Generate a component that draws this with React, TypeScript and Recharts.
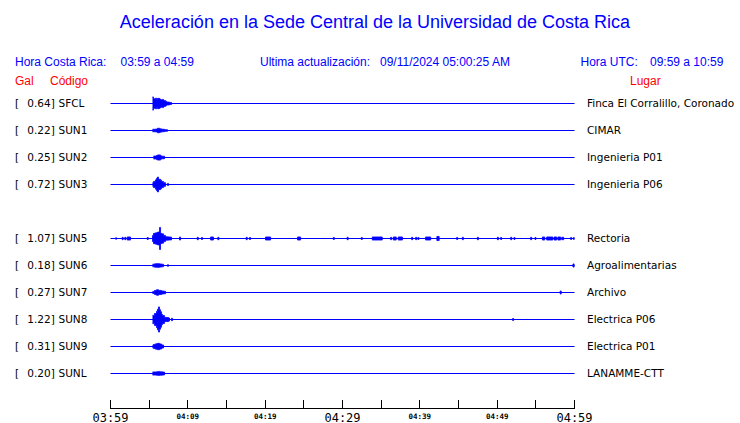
import React from 'react'
import { ComposedChart, Area, XAxis, YAxis, ReferenceLine } from 'recharts'

// estaciones (la fila 4 queda vacía en el gráfico original)
const CODES = ['SFCL', 'SUN1', 'SUN2', 'SUN3', '', 'SUN5', 'SUN6', 'SUN7', 'SUN8', 'SUN9', 'SUNL']
const PLACES = [
  'Finca El Corralillo, Coronado',
  'CIMAR',
  'Ingenieria P01',
  'Ingenieria P06',
  '',
  'Rectoria',
  'Agroalimentarias',
  'Archivo',
  'Electrica P06',
  'Electrica P01',
  'LANAMME-CTT',
]
const PEAKS = [0.64, 0.22, 0.25, 0.72, null, 1.07, 0.18, 0.27, 1.22, 0.31, 0.2]

// envolvente de cada traza: [minutos desde 03:59, amplitud en gal]
const SFCL = [[5.43, 0.64], [5.56, 0.46], [5.82, 0.52], [5.95, 0.42], [6.08, 0.5], [6.34, 0.44], [6.47, 0.36], [6.73, 0.4], [6.86, 0.28], [7.12, 0.22], [7.24, 0.14], [7.63, 0.1], [7.89, 0]]
const SUN1 = [[5.43, 0.12], [5.82, 0.14], [6.08, 0.22], [6.34, 0.16], [6.6, 0.12], [6.99, 0.08], [7.37, 0]]
const SUN2 = [[5.56, 0.14], [5.95, 0.2], [6.08, 0.25], [6.47, 0.16], [6.6, 0.12], [6.99, 0]]
const SUN3 = [[5.43, 0.18], [5.56, 0.3], [5.82, 0.45], [5.95, 0.6], [6.08, 0.72], [6.21, 0.5], [6.47, 0.42], [6.6, 0.3], [6.86, 0.18], [7.12, 0], [7.37, 0.1], [7.5, 0]]
const SUN5 = [
  [0.65, 0.08], [0.78, 0], [1.51, 0.12], [1.64, 0], [1.85, 0.12], [1.98, 0], [2.16, 0.15], [2.59, 0], [4.75, 0.1], [4.88, 0],
  [5.43, 0.3], [5.56, 0.5], [5.82, 0.55], [6.08, 0.62], [6.34, 1.07], [6.47, 0.5], [6.6, 0.45], [6.86, 0.3], [7.12, 0.16], [7.5, 0.14], [7.89, 0],
  [8.93, 0.15], [9.06, 0], [11.22, 0.12], [11.35, 0], [11.77, 0.1], [11.9, 0], [12.94, 0.15], [13.32, 0], [13.88, 0.12], [14.01, 0],
  [17.55, 0.12], [17.68, 0], [17.98, 0.1], [18.11, 0], [20.05, 0.15], [20.7, 0], [24.19, 0.15], [24.58, 0], [28.81, 0.1], [28.94, 0],
  [30.6, 0.12], [30.73, 0], [32.43, 0.1], [32.56, 0], [33.85, 0.15], [35.14, 0], [36.22, 0.12], [36.35, 0], [36.57, 0.15], [36.95, 0],
  [37.2, 0.15], [37.75, 0], [38.94, 0.12], [39.07, 0], [39.46, 0.12], [39.59, 0], [39.75, 0.1], [39.88, 0], [40.75, 0.15], [41.4, 0],
  [42.2, 0.2], [42.5, 0], [44.76, 0.1], [44.89, 0], [45.5, 0.12], [45.63, 0], [47.44, 0.12], [47.57, 0], [50.03, 0.12], [50.16, 0],
  [50.45, 0.1], [50.58, 0], [51.75, 0.12], [51.88, 0], [52.17, 0.1], [52.3, 0], [54.33, 0.12], [54.46, 0], [54.89, 0.1], [55.02, 0],
  [55.85, 0.15], [56.15, 0], [56.4, 0.15], [57.2, 0], [57.35, 0.15], [57.7, 0], [57.85, 0.15], [58.2, 0], [58.35, 0.12], [58.6, 0],
  [59.5, 0.1], [59.63, 0], [59.87, 0.1], [60, 0],
]
const SUN6 = [[5.43, 0.12], [5.69, 0.16], [5.95, 0.18], [6.34, 0.15], [6.6, 0.12], [6.86, 0], [7.37, 0.08], [7.5, 0], [59.8, 0.15], [60, 0]]
const SUN7 = [[5.43, 0.1], [5.69, 0.2], [5.95, 0.27], [6.21, 0.2], [6.6, 0.15], [6.86, 0.12], [7.12, 0], [58.15, 0.15], [58.28, 0]]
const SUN8 = [[5.43, 0.4], [5.69, 0.58], [5.95, 0.8], [6.08, 1.0], [6.21, 1.22], [6.34, 0.95], [6.47, 0.75], [6.6, 0.5], [6.73, 0.38], [6.99, 0.2], [7.5, 0.15], [7.63, 0], [7.89, 0.12], [8.02, 0], [52.0, 0.1], [52.13, 0]]
const SUN9 = [[5.43, 0.12], [5.56, 0.2], [5.82, 0.26], [6.08, 0.31], [6.34, 0.25], [6.6, 0.15], [6.86, 0]]
const SUNL = [[5.43, 0.15], [5.95, 0.17], [6.21, 0.2], [6.34, 0.16], [6.73, 0.14], [6.99, 0]]

const TRACES = [SFCL, SUN1, SUN2, SUN3, null, SUN5, SUN6, SUN7, SUN8, SUN9, SUNL]

const TICKS = [0, 5, 10, 15, 20, 25, 30, 35, 40, 45, 50, 55, 60]
const TICK_LABELS: Record<number, string> = {
  0: '03:59',
  10: '04:09',
  20: '04:19',
  30: '04:29',
  40: '04:39',
  50: '04:49',
  60: '04:59',
}
const BIG_TICKS = [0, 30, 60]

const BLUE = '#0000ff'
const RED = '#ff0000'
const ROW_GAP = 27 // px entre trazas
const GAIN = 10.3 // px por gal
const TOP = 76.5

function AxisTick({ x, y, payload }: any) {
  const v = payload.value
  const label = TICK_LABELS[v]
  const big = BIG_TICKS.includes(v)
  return (
    <g>
      <line x1={x} x2={x} y1={y - 9} y2={y} stroke="#000" shapeRendering="crispEdges" />
      {label && (
        <text
          x={x}
          y={big ? y + 13 : y + 10}
          textAnchor="middle"
          fontFamily="'DejaVu Sans Mono', monospace"
          fontSize={big ? 12 : 7.5}
          fontWeight={big ? 'normal' : 'bold'}
          fill="#000"
        >
          {label}
        </text>
      )}
    </g>
  )
}

export default function App() {
  const rowY = (i: number) => ROW_GAP * (i + 1)

  return (
    <div style={{ position: 'absolute', left: 0, top: 0, width: 740, height: 423, background: '#fff' }}>
      <ComposedChart width={740} height={423} margin={{ top: TOP, right: 165.5, bottom: 0, left: 110.5 }}>
        <XAxis
          type="number"
          dataKey="t"
          domain={[0, 60]}
          ticks={TICKS}
          height={14.5}
          axisLine={{ stroke: '#000' }}
          tickLine={false}
          tickSize={0}
          tickMargin={0}
          tick={AxisTick}
          allowDataOverflow
        />
        <YAxis hide type="number" domain={[0, 332]} reversed allowDataOverflow />
        {CODES.map((code, i) =>
          code ? (
            <ReferenceLine key={'b' + code} y={rowY(i)} stroke={BLUE} strokeWidth={1} ifOverflow="visible" />
          ) : null
        )}
        {TRACES.map((trace, i) => {
          if (!trace) return null
          const c = rowY(i)
          const data = trace.map(([t, a]) => ({ t, r: [c - a * GAIN, c + a * GAIN] }))
          return (
            <Area
              key={'a' + CODES[i]}
              data={data}
              dataKey="r"
              type="stepAfter"
              stroke={BLUE}
              strokeWidth={0.8}
              fill={BLUE}
              fillOpacity={1}
              dot={false}
              activeDot={false}
              isAnimationActive={false}
            />
          )
        })}
      </ComposedChart>

      <svg width={740} height={423} style={{ position: 'absolute', left: 0, top: 0, pointerEvents: 'none' }}>
        <g fontFamily="'Liberation Sans', Arial, sans-serif">
          <text x={375} y={28} textAnchor="middle" fontSize={18} fill={BLUE}>
            Aceleración en la Sede Central de la Universidad de Costa Rica
          </text>
          <text x={15} y={65.5} fontSize={12} fill={BLUE}>Hora Costa Rica:</text>
          <text x={120.5} y={65.5} fontSize={12} fill={BLUE}>03:59 a 04:59</text>
          <text x={260} y={65.5} fontSize={12} fill={BLUE}>Ultima actualización:</text>
          <text x={380} y={65.5} fontSize={12} fill={BLUE}>09/11/2024 05:00:25 AM</text>
          <text x={580.5} y={65.5} fontSize={12} fill={BLUE}>Hora UTC:</text>
          <text x={650} y={65.5} fontSize={12} fill={BLUE}>09:59 a 10:59</text>
          <text x={15} y={84.5} fontSize={12} fill={RED}>Gal</text>
          <text x={50} y={84.5} fontSize={12} fill={RED}>Código</text>
          <text x={630} y={84.5} fontSize={12} fill={RED}>Lugar</text>
        </g>
        <g fontFamily="'DejaVu Sans', sans-serif" fontSize={10.5} fill="#000">
          {CODES.map((code, i) => {
            if (!code) return null
            const y = TOP + rowY(i) + 3.8
            return (
              <g key={'l' + code}>
                <text x={15} y={y}>[</text>
                <text x={27.3} y={y}>{PEAKS[i]!.toFixed(2)}]</text>
                <text x={58.5} y={y}>{code}</text>
                <text x={587} y={y}>{PLACES[i]}</text>
              </g>
            )
          })}
        </g>
      </svg>
    </div>
  )
}
